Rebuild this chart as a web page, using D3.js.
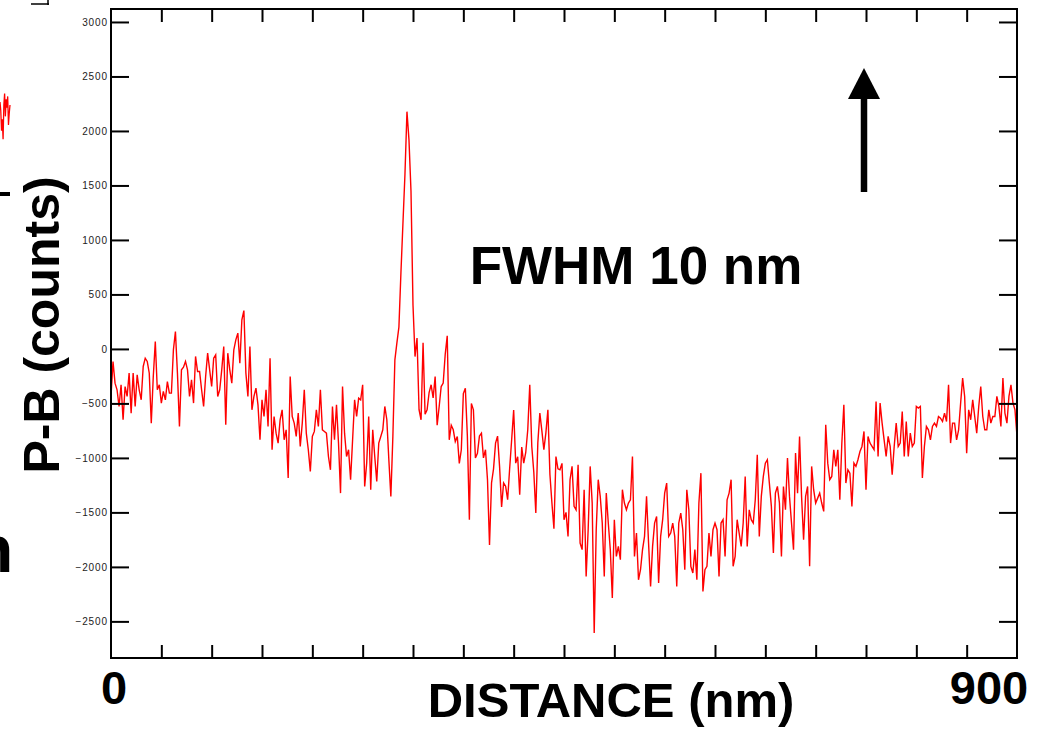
<!DOCTYPE html>
<html>
<head>
<meta charset="utf-8">
<script src="https://cdnjs.cloudflare.com/ajax/libs/d3/7.8.5/d3.min.js"></script>
<style>
  body { margin: 0; background: #fff; }
  svg { display: block; }
</style>
</head>
<body>
<div id="chart"></div>
<script>
// Profile across the boundary (one sample every 2 nm)
const STEP_NM = 2;
const counts = [
  // 0 - 230 nm
  -436,-115,-314,-375,-528,-329,-650,-345,-436,-222,
  -589,-222,-528,-238,-375,-467,-161,-85,-115,-222,
  -681,-253,68,-375,-329,-497,-390,-467,-299,-406,
  -406,-8,160,-222,-711,-192,-167,-115,-192,-436,
  -283,-497,-69,-207,-207,-375,-528,-253,-39,-192,
  -345,-85,-54,-436,-375,-192,22,-696,-39,-192,
  -314,-8,83,145,-131,267,352,-222,-436,22,
  -559,-436,-360,-513,-834,-467,-620,-375,-711,-85,
  -925,-620,-773,-864,-650,-559,-834,-742,-1185,-253,
  -620,-681,-803,-589,-895,-681,-375,-773,-925,-1124,
  -803,-757,-559,-711,-375,-742,-757,-773,-987,-1109,
  -528,-834,-513,-864,-1323,-345,
  // 232 - 456 nm (the peak)
  -773,-987,-925,-1200,-834,-467,-620,-452,-467,-329,
  -1262,-1048,-620,-1292,-742,-987,-1216,-864,-803,-742,
  -528,-650,-1017,-1353,-803,-100,56,200,697,1150,
  1600,2177,1918,1450,400,-70,100,-558,-650,56,
  -600,-559,-400,-329,-450,-253,-700,-528,-345,-314,
  -50,120,-834,-700,-742,-850,-803,-1050,-925,-410,
  -360,-800,-1567,-500,-559,-1000,-957,-800,-773,-1000,
  -925,-1200,-1800,-1230,-1100,-864,-800,-1078,-1450,-1230,
  -1260,-1384,-1100,-834,-560,-1048,-990,-1338,-900,-1048,
  -950,-742,-330,-895,-1130,-1506,-860,-589,-750,-925,
  -770,-559,-1150,-1414,-1650,-987,-1100,-1109,-1050,-1567,
  -1500,-1720,-1200,
  // 458 - 680 nm
  -1078,-1445,-1476,-1063,-1781,-1842,-1292,-2087,-1659,-1078,
  -1414,-2607,-1659,-1200,-1353,-1598,-2087,-1323,-1598,-1842,
  -2286,-1567,-1904,-1812,-1934,-1292,-1414,-1476,-1414,-1384,
  -987,-1904,-1690,-2118,-2026,-1842,-1720,-1353,-1781,-2179,
  -1812,-1598,-1537,-2148,-1720,-1567,-1323,-1231,-1720,-1690,
  -1598,-1720,-2179,-1598,-1506,-1659,-2026,-1292,-1476,-1995,
  -2056,-1842,-2118,-1414,-1140,-2225,-2026,-1995,-1690,-1904,
  -1659,-1598,-1659,-2087,-1598,-1567,-1904,-1384,-1323,-1200,
  -1995,-1904,-1567,-1690,-1812,-1598,-1170,-1812,-1476,-1567,
  -1598,-1384,-971,-1720,-1353,-1170,-1048,-1017,-1231,-1445,
  -1873,-1323,-1262,-1414,-1904,-1262,-1476,-1002,-1353,-1598,
  -1842,-956,
  // 682 - 900 nm
  -1323,-803,-1353,-1751,-1353,-1262,-1995,-1078,-1292,-1414,
  -1369,-1323,-1414,-1491,-696,-1048,-1200,-1170,-925,-1078,
  -925,-1384,-864,-513,-1231,-1109,-1140,-1445,-1048,-1078,
  -1017,-941,-895,-757,-1292,-803,-864,-895,-925,-482,
  -987,-497,-681,-834,-987,-803,-895,-1155,-895,-681,
  -895,-864,-574,-987,-666,-987,-773,-895,-864,-528,
  -543,-528,-1185,-895,-711,-742,-834,-711,-681,-711,
  -620,-635,-666,-589,-666,-329,-864,-681,-681,-834,
  -742,-497,-268,-436,-956,-559,-650,-467,-620,-773,
  -528,-345,-620,-742,-742,-559,-681,-620,-620,-436,
  -528,-711,-268,-589,-681,-436,-329,-497,-559,-803
];
const distance = counts.map((d, i) => i * STEP_NM);

const yTicks = [-2500, -2000, -1500, -1000, -500, 0, 500, 1000, 1500, 2000, 2500, 3000];
const xTicks = d3.range(0, 901, 50);
const xLabels = [0, 900];

// cut-off piece of the neighbouring panel at the left edge
const neighbourTrace = [40, 10, -60, -20, -90, 30, 70, -10, 50, 20, 60, -40, 0, 30];

const W = 1050, H = 730;
const margin = { top: 9, right: 33, bottom: 72, left: 111 };

const svg = d3.select("#chart").append("svg")
  .attr("width", W)
  .attr("height", H)
  .style("font-family", "'Liberation Sans', Arial, Helvetica, sans-serif");

const x = d3.scaleLinear().domain([0, 900]).range([margin.left, W - margin.right]);
const y = d3.scaleLinear().domain([-2836, 3119]).range([H - margin.bottom, margin.top]);

// the data line, clipped to the frame
svg.append("clipPath").attr("id", "plot")
  .append("rect")
  .attr("x", margin.left).attr("y", margin.top)
  .attr("width", x(900) - x(0)).attr("height", y.range()[0] - y.range()[1]);

const line = d3.line()
  .x((d, i) => x(distance[i]))
  .y(d => y(d));

svg.append("path")
  .datum(counts)
  .attr("clip-path", "url(#plot)")
  .attr("fill", "none")
  .attr("stroke", "#ff0000")
  .attr("stroke-width", 1.4)
  .attr("d", line);

// axes, ticks pointing inward
const leftAxis = svg.append("g")
  .attr("transform", `translate(${x(0)},0)`)
  .call(d3.axisLeft(y).tickValues(yTicks).tickSize(-18).tickPadding(3).tickFormat(d3.format("d")));
const rightAxis = svg.append("g")
  .attr("transform", `translate(${x(900)},0)`)
  .call(d3.axisRight(y).tickValues(yTicks).tickSize(-18).tickFormat(""));
const bottomAxis = svg.append("g")
  .attr("transform", `translate(0,${y.range()[0]})`)
  .call(d3.axisBottom(x).tickValues(xTicks.slice(1, -1)).tickSize(-13).tickFormat(""));
const topAxis = svg.append("g")
  .attr("transform", `translate(0,${y.range()[1]})`)
  .call(d3.axisTop(x).tickValues(xTicks.slice(1, -1)).tickSize(-13).tickFormat(""));

[leftAxis, rightAxis, bottomAxis, topAxis].forEach(g => {
  g.select(".domain").remove();
  g.selectAll(".tick line").attr("stroke", "#000").attr("stroke-width", 2);
});
leftAxis.selectAll(".tick text")
  .attr("font-size", 10)
  .attr("letter-spacing", "0.9px")
  .attr("fill", "#222");

svg.append("rect")
  .attr("x", x(0)).attr("y", y.range()[1])
  .attr("width", x(900) - x(0)).attr("height", y.range()[0] - y.range()[1])
  .attr("fill", "none")
  .attr("stroke", "#000")
  .attr("stroke-width", 2);

// big x labels, only at the ends
svg.selectAll(".xlab")
  .data(xLabels)
  .enter().append("text")
  .attr("class", "xlab")
  .attr("x", d => d === 0 ? x(d) + 3 : x(d) - 28)
  .attr("y", 704)
  .attr("text-anchor", "middle")
  .attr("font-size", 47)
  .attr("font-weight", "bold")
  .text(d => d);

svg.append("text")
  .attr("x", 611).attr("y", 717)
  .attr("text-anchor", "middle")
  .attr("font-size", 49)
  .attr("font-weight", "bold")
  .text("DISTANCE (nm)");

svg.append("text")
  .attr("transform", "translate(59,325) rotate(-90)")
  .attr("text-anchor", "middle")
  .attr("font-size", 50)
  .attr("font-weight", "bold")
  .text("P-B (counts)");

svg.append("text")
  .attr("x", 636).attr("y", 284)
  .attr("text-anchor", "middle")
  .attr("font-size", 53)
  .attr("font-weight", "bold")
  .text("FWHM 10 nm");

// arrow
svg.append("line")
  .attr("x1", 864).attr("x2", 864)
  .attr("y1", 192).attr("y2", 96)
  .attr("stroke", "#000")
  .attr("stroke-width", 6.5);
svg.append("path")
  .attr("d", "M864,68L880,99L848,99Z")
  .attr("fill", "#000");

// fragments of the neighbouring panel cut by the left edge
const nx = d3.scaleLinear().domain([0, neighbourTrace.length - 1]).range([0, 10]);
const ny = d3.scaleLinear().domain([-100, 100]).range([142, 85]);
svg.append("path")
  .datum(neighbourTrace)
  .attr("fill", "none")
  .attr("stroke", "#ff0000")
  .attr("stroke-width", 1.3)
  .attr("d", d3.line().x((d, i) => nx(i)).y(d => ny(d)));

svg.append("text")
  .attr("x", -27).attr("y", 572)
  .attr("font-size", 66)
  .attr("font-weight", "bold")
  .text("n");

svg.append("path")
  .attr("d", "M31,4H49M48,0V5")
  .attr("stroke", "#000")
  .attr("stroke-width", 1.5)
  .attr("fill", "none");
svg.append("rect")
  .attr("x", 0).attr("y", 192).attr("width", 10).attr("height", 4)
  .attr("fill", "#000");
</script>
</body>
</html>
